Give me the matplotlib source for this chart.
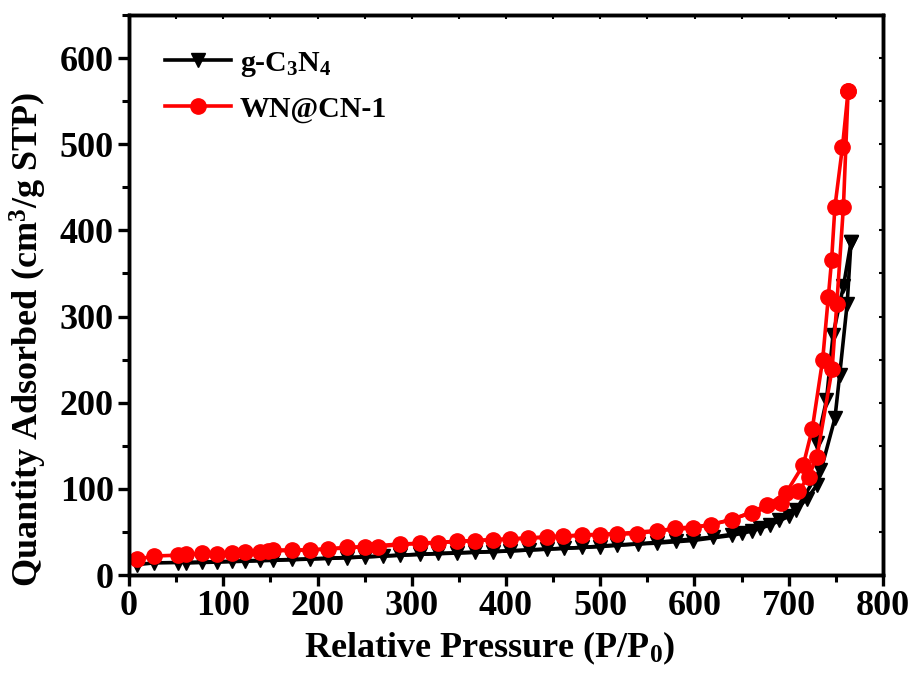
import matplotlib
matplotlib.use("Agg")
import matplotlib.pyplot as plt
from matplotlib.ticker import MultipleLocator

plt.rcParams['font.family'] = ['Liberation Serif', 'DejaVu Serif']
plt.rcParams['font.weight'] = 'bold'
plt.rcParams['mathtext.fontset'] = 'custom'
plt.rcParams['mathtext.rm'] = 'Liberation Serif:bold'
plt.rcParams['mathtext.bf'] = 'Liberation Serif:bold'
plt.rcParams['mathtext.it'] = 'Liberation Serif:bold'

# g-C3N4 adsorption / desorption branches
gcn_ads_x = [8, 26, 52, 77, 109, 139, 173, 211, 250, 288, 328, 367, 404, 443, 481,
             518, 560, 598, 640, 661, 680, 700, 719, 730, 749, 754, 762, 766]
gcn_ads_y = [12, 14, 14.5, 15, 16, 17, 18, 19.5, 21, 23, 25, 26.5, 28, 30, 32,
             35, 37, 40, 46, 51, 58, 68, 88, 104.5, 182, 232, 315, 386]
gcn_des_x = [766, 758, 747, 740, 730, 733, 708, 690, 670, 650, 620, 580, 540, 500,
             462, 424, 386, 348, 309, 269, 231, 192, 153, 123, 93, 61]
gcn_des_y = [386, 335, 279, 203, 153, 122, 76, 64, 55, 49, 44, 40, 36, 33,
             31, 29, 27, 25.5, 24, 22, 20, 18.5, 17, 16, 15, 14]

# WN@CN-1 adsorption / desorption branches
wn_ads_x = [8, 26, 52, 77, 109, 139, 153, 192, 231, 264, 309, 348, 386, 423, 460,
            500, 539, 579, 618, 661, 692, 710, 721, 730, 746, 751, 758, 763]
wn_ads_y = [18, 22, 23, 25, 26, 27, 29, 29, 32, 33, 37, 39, 41, 43, 45,
            47, 48, 54, 58, 72, 84, 97, 114, 137.5, 239, 315, 427.5, 562]
wn_des_x = [763, 757, 749, 745.5, 742, 736, 725, 715.5, 697, 677, 640, 598, 560, 518,
            481, 443, 404, 367, 328, 288, 250, 211, 173, 148, 123, 93, 61]
wn_des_y = [562, 497, 427.5, 366, 323, 250, 170, 128, 95, 81, 64, 54.5, 51.5, 48,
            46.5, 44, 41.5, 40, 37.5, 36, 33, 30, 28.5, 28, 27, 24.5, 24]

fig = plt.figure(figsize=(9.17, 6.77), dpi=100)
ax = fig.add_axes([129/917, 1-575/677, (883-129)/917, (575-15)/677])

lw = 2.6
ax.plot(gcn_ads_x, gcn_ads_y, color='black', marker='v', ms=10, lw=lw, label='g-C$_3$N$_4$')
ax.plot(gcn_des_x, gcn_des_y, color='black', marker='v', ms=10, lw=lw)
ax.plot(wn_ads_x, wn_ads_y, color='#ff0000', marker='o', ms=11, lw=lw, label='WN@CN-1')
ax.plot(wn_des_x, wn_des_y, color='#ff0000', marker='o', ms=11, lw=lw)

ax.set_xlim(0, 800)
ax.set_ylim(0, 650)
ax.xaxis.set_major_locator(MultipleLocator(100))
ax.xaxis.set_minor_locator(MultipleLocator(50))
ax.yaxis.set_major_locator(MultipleLocator(100))
ax.yaxis.set_minor_locator(MultipleLocator(50))

for s in ax.spines.values():
    s.set_linewidth(2.4)

ax.tick_params(axis='both', which='major', direction='out', length=8, width=2.4,
               labelsize=26, pad=3)
ax.tick_params(axis='both', which='minor', direction='out', length=5, width=2.2)

# top and right ticks small and inward
axt = ax.twiny()
axt.set_xlim(ax.get_xlim())
axt.xaxis.set_major_locator(MultipleLocator(50))
axt.tick_params(axis='x', direction='in', length=3, width=1.5, labeltop=False)
axr = ax.twinx()
axr.set_ylim(ax.get_ylim())
axr.yaxis.set_major_locator(MultipleLocator(50))
axr.tick_params(axis='y', direction='in', length=3, width=1.5, labelright=False)
for a in (axt, axr):
    for s in a.spines.values():
        s.set_linewidth(2.4)

for lbl in ax.get_xticklabels() + ax.get_yticklabels():
    lbl.set_fontweight('bold')

ax.set_xlabel(r'Relative Pressure (P/P$_{0}$)', fontsize=26, fontweight='bold')
ax.set_ylabel(r'Quantity Adsorbed (cm$^{3}$/g STP)', fontsize=26, fontweight='bold')
ax.xaxis.set_label_coords(0.479, -0.098)
ax.yaxis.set_label_coords(-0.106, 0.42)

leg = ax.legend(loc='upper left', frameon=False, fontsize=21.5, handlelength=2.2,
                borderaxespad=0.3, bbox_to_anchor=(0.02, 0.975), labelspacing=0.55,
                handletextpad=0.3)
for t in leg.get_texts():
    t.set_fontweight('bold')

fig.savefig('out.png', dpi=100)
